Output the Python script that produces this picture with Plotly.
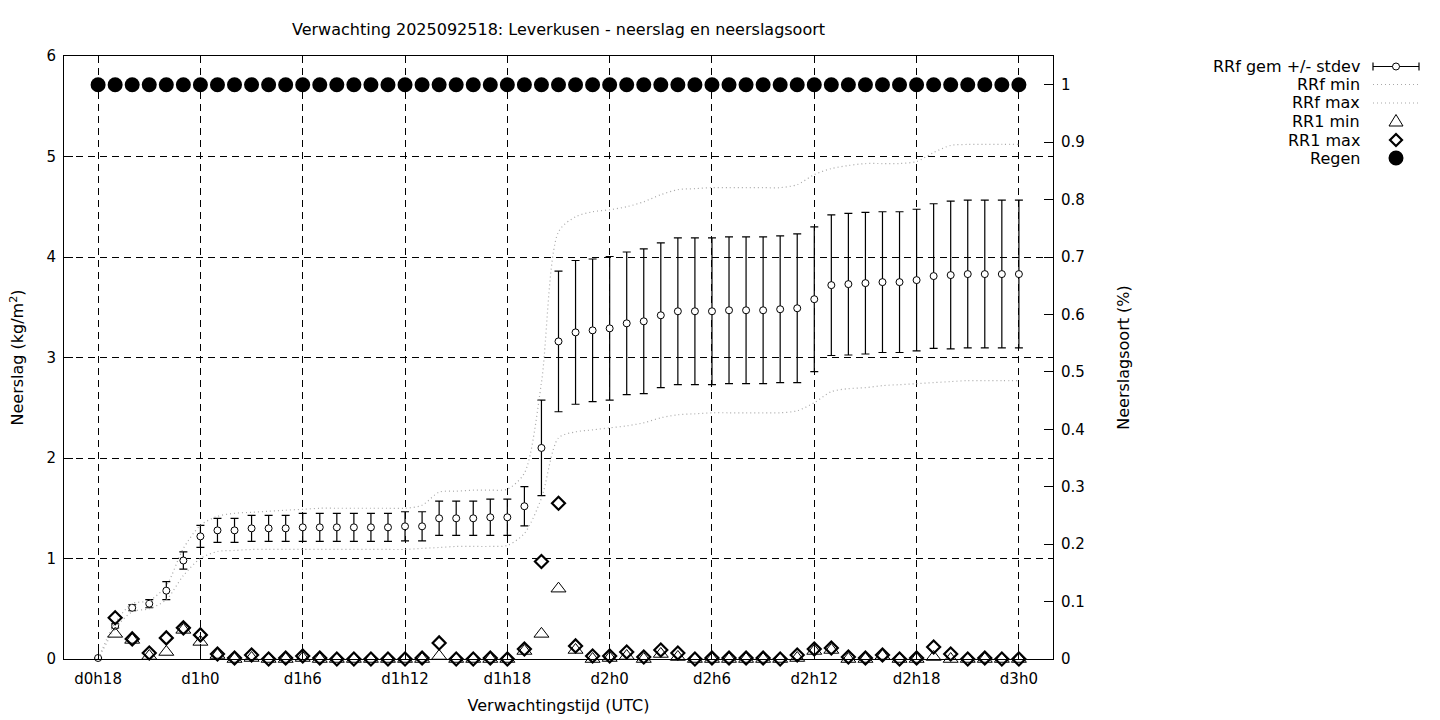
import plotly.graph_objects as go

hours = [18, 19, 20, 21, 22, 23, 24, 25, 26, 27, 28, 29, 30, 31, 32, 33, 34, 35, 36, 37,
         38, 39, 40, 41, 42, 43, 44, 45, 46, 47, 48, 49, 50, 51, 52, 53, 54, 55, 56, 57,
         58, 59, 60, 61, 62, 63, 64, 65, 66, 67, 68, 69, 70, 71, 72]
tick_hours = [18, 24, 30, 36, 42, 48, 54, 60, 66, 72]
tick_labels = ["d0h18", "d1h0", "d1h6", "d1h12", "d1h18", "d2h0", "d2h6", "d2h12", "d2h18", "d3h0"]
y2_ticks = [0, 0.1, 0.2, 0.3, 0.4, 0.5, 0.6, 0.7, 0.8, 0.9, 1]
y2_labels = ["0", "0.1", "0.2", "0.3", "0.4", "0.5", "0.6", "0.7", "0.8", "0.9", "1"]

rrf_mean = [0.01, 0.33, 0.51, 0.55, 0.68, 0.98, 1.22, 1.28, 1.28, 1.30, 1.30, 1.30, 1.31, 1.31,
            1.31, 1.31, 1.31, 1.31, 1.32, 1.32, 1.40, 1.40, 1.40, 1.41, 1.41, 1.52, 2.10, 3.16,
            3.25, 3.27, 3.29, 3.34, 3.36, 3.42, 3.46, 3.46, 3.46, 3.47, 3.47, 3.47, 3.48, 3.49,
            3.58, 3.72, 3.73, 3.74, 3.75, 3.75, 3.77, 3.81, 3.82, 3.83, 3.83, 3.83, 3.83]
rrf_std = [0.0, 0.02, 0.03, 0.04, 0.09, 0.085, 0.11, 0.12, 0.12, 0.13, 0.13, 0.13, 0.14, 0.14,
           0.14, 0.14, 0.14, 0.14, 0.145, 0.145, 0.17, 0.17, 0.17, 0.18, 0.18, 0.195, 0.475, 0.70,
           0.715, 0.71, 0.715, 0.71, 0.72, 0.72, 0.73, 0.73, 0.73, 0.73, 0.73, 0.73, 0.73, 0.74,
           0.72, 0.70, 0.705, 0.705, 0.70, 0.70, 0.705, 0.72, 0.735, 0.735, 0.735, 0.735, 0.735]
rrf_min = [0.0, 0.30, 0.47, 0.50, 0.59, 0.83, 1.00, 1.07, 1.08, 1.09, 1.09, 1.09, 1.09, 1.09,
           1.09, 1.09, 1.09, 1.09, 1.09, 1.10, 1.11, 1.12, 1.12, 1.12, 1.13, 1.25, 1.60, 2.20,
           2.26, 2.28, 2.30, 2.32, 2.35, 2.40, 2.43, 2.44, 2.45, 2.45, 2.45, 2.45, 2.45, 2.47,
           2.55, 2.66, 2.69, 2.70, 2.72, 2.73, 2.74, 2.75, 2.76, 2.77, 2.77, 2.77, 2.77]
rrf_max = [0.0, 0.36, 0.55, 0.58, 0.73, 1.10, 1.33, 1.42, 1.45, 1.46, 1.47, 1.48, 1.49, 1.50,
           1.50, 1.50, 1.50, 1.50, 1.50, 1.53, 1.66, 1.67, 1.68, 1.68, 1.69, 1.85, 2.75, 4.25,
           4.40, 4.45, 4.47, 4.50, 4.55, 4.62, 4.67, 4.68, 4.69, 4.69, 4.69, 4.69, 4.69, 4.72,
           4.82, 4.88, 4.91, 4.93, 4.93, 4.93, 4.95, 5.04, 5.11, 5.12, 5.12, 5.12, 5.12]
rr1_min = [None, 0.25, 0.19, 0.03, 0.07, 0.29, 0.17, 0.04, 0.00, 0.01, 0.00, 0.00, 0.01, 0.00,
           0.00, 0.00, 0.00, 0.00, 0.00, 0.00, 0.03, 0.00, 0.00, 0.00, 0.00, 0.08, 0.25, 0.70,
           0.09, 0.00, 0.01, 0.03, 0.00, 0.05, 0.02, 0.00, 0.00, 0.00, 0.00, 0.00, 0.00, 0.01,
           0.08, 0.09, 0.00, 0.00, 0.03, 0.00, 0.00, 0.02, 0.00, 0.00, 0.00, 0.00, 0.00]
rr1_max = [None, 0.41, 0.20, 0.06, 0.21, 0.31, 0.24, 0.05, 0.01, 0.04, 0.00, 0.01, 0.03, 0.01,
           0.00, 0.00, 0.00, 0.00, 0.00, 0.01, 0.16, 0.00, 0.00, 0.01, 0.00, 0.10, 0.97, 1.55,
           0.13, 0.03, 0.03, 0.07, 0.02, 0.09, 0.06, 0.00, 0.01, 0.01, 0.01, 0.01, 0.00, 0.04,
           0.10, 0.11, 0.02, 0.01, 0.04, 0.00, 0.01, 0.12, 0.05, 0.00, 0.01, 0.00, 0.00]
regen = [1, 1, 1, 1, 1, 1, 1, 1, 1, 1, 1, 1, 1, 1, 1, 1, 1, 1, 1, 1, 1, 1, 1, 1, 1, 1, 1, 1,
         1, 1, 1, 1, 1, 1, 1, 1, 1, 1, 1, 1, 1, 1, 1, 1, 1, 1, 1, 1, 1, 1, 1, 1, 1, 1, 1]

legend_names = ["RRf gem +/- stdev", "RRf min", "RRf max", "RR1 min", "RR1 max", "Regen"]

FONT = "DejaVu Sans"
GRID_DASH = "7px,5px"
DOT_COLOR = "#a8a8a8"
DOT_DASH = "1px,3px"

# figure geometry (pixels)
W, H = 1440, 720
ML, MR, MT, MB = 64, 387, 56, 61
PW, PH = W - ML - MR, H - MT - MB


def px_to_paper_x(px):
    return (px - ML) / PW


def px_to_paper_y(py):
    return (H - MB - py) / PH


fig = go.Figure()

fig.add_trace(go.Scatter(
    x=hours, y=rrf_mean, name=legend_names[0], mode="markers",
    marker=dict(symbol="circle", size=7, color="white", line=dict(color="black", width=1)),
    error_y=dict(type="data", array=rrf_std, visible=True, color="black", thickness=1.2, width=4),
    cliponaxis=False, showlegend=False,
))
fig.add_trace(go.Scatter(
    x=hours, y=rrf_min, name=legend_names[1], mode="lines",
    line=dict(color=DOT_COLOR, width=1.2, dash=DOT_DASH, shape="spline", smoothing=0.8),
    showlegend=False,
))
fig.add_trace(go.Scatter(
    x=hours, y=rrf_max, name=legend_names[2], mode="lines",
    line=dict(color=DOT_COLOR, width=1.2, dash=DOT_DASH, shape="spline", smoothing=0.8),
    showlegend=False,
))
fig.add_trace(go.Scatter(
    x=hours, y=rr1_min, name=legend_names[3], mode="markers",
    marker=dict(symbol="triangle-up-open", size=13, color="black", line=dict(color="black", width=1)),
    cliponaxis=False, showlegend=False,
))
fig.add_trace(go.Scatter(
    x=hours, y=rr1_max, name=legend_names[4], mode="markers",
    marker=dict(symbol="diamond-open", size=10, color="black", line=dict(color="black", width=2.2)),
    cliponaxis=False, showlegend=False,
))
fig.add_trace(go.Scatter(
    x=hours, y=regen, name=legend_names[5], mode="markers", yaxis="y2",
    marker=dict(symbol="circle", size=15, color="black", line=dict(width=0)),
    cliponaxis=False, showlegend=False,
))

# ---- gnuplot-style key (text right-aligned, sample to the right) ----
row_y = [66.5, 84.5, 103, 121.5, 140, 158]
text_right = 1362
sample_cx = 1396
annotations = []
shapes = []
for name, ry in zip(legend_names, row_y):
    annotations.append(dict(
        text=name, xref="paper", yref="paper",
        x=px_to_paper_x(text_right), y=px_to_paper_y(ry),
        xanchor="right", yanchor="middle", showarrow=False,
        font=dict(family=FONT, size=16, color="black"),
    ))

ax = px_to_paper_x(sample_cx)


def pix_shape(ry, **kw):
    d = dict(xref="paper", yref="paper", xsizemode="pixel", ysizemode="pixel",
             xanchor=ax, yanchor=px_to_paper_y(ry))
    d.update(kw)
    return d


# error bar sample
shapes.append(pix_shape(row_y[0], type="line", x0=-23, x1=23, y0=0, y1=0,
                        line=dict(color="black", width=1.2)))
shapes.append(pix_shape(row_y[0], type="line", x0=-23, x1=-23, y0=-4, y1=4,
                        line=dict(color="black", width=1.2)))
shapes.append(pix_shape(row_y[0], type="line", x0=23, x1=23, y0=-4, y1=4,
                        line=dict(color="black", width=1.2)))
shapes.append(pix_shape(row_y[0], type="circle", x0=-3.5, x1=3.5, y0=-3.5, y1=3.5,
                        fillcolor="white", line=dict(color="black", width=1)))
# dotted samples
for ry in row_y[1:3]:
    shapes.append(pix_shape(ry, type="line", x0=-23, x1=23, y0=0, y1=0,
                            line=dict(color=DOT_COLOR, width=1.2, dash=DOT_DASH)))
# triangle
shapes.append(pix_shape(row_y[3], type="path", path="M -7,-4.5 L 7,-4.5 L 0,7 Z",
                        line=dict(color="black", width=1)))
# diamond
shapes.append(pix_shape(row_y[4], type="path", path="M 0,6 L 6,0 L 0,-6 L -6,0 Z",
                        line=dict(color="black", width=2.2)))
# filled circle
shapes.append(pix_shape(row_y[5], type="circle", x0=-7.5, x1=7.5, y0=-7.5, y1=7.5,
                        fillcolor="black", line=dict(color="black", width=0)))

fig.update_layout(
    width=W, height=H,
    margin=dict(l=ML, r=MR, t=MT, b=MB, autoexpand=False),
    paper_bgcolor="white", plot_bgcolor="white",
    font=dict(family=FONT, size=15, color="black"),
    showlegend=False,
    title=dict(text="Verwachting 2025092518: Leverkusen - neerslag en neerslagsoort",
               x=0.5, xref="paper", xanchor="center", y=1 - 29 / H, yref="container",
               yanchor="middle", pad=dict(t=0, b=0),
               font=dict(family=FONT, size=16, color="black")),
    xaxis=dict(
        range=[16, 74], tickvals=tick_hours, ticktext=tick_labels,
        ticks="inside", ticklen=9, tickcolor="black", ticklabelstandoff=6,
        showgrid=True, gridcolor="black", gridwidth=1, griddash=GRID_DASH,
        showline=True, linecolor="black", linewidth=1, mirror=True, zeroline=False,
        automargin=False,
        title=dict(text="Verwachtingstijd (UTC)", standoff=12, font=dict(size=16)),
    ),
    yaxis=dict(
        range=[0, 6], tickvals=[0, 1, 2, 3, 4, 5, 6],
        ticks="inside", ticklen=9, tickcolor="black", ticklabelstandoff=4,
        showgrid=True, gridcolor="black", gridwidth=1, griddash=GRID_DASH,
        showline=True, linecolor="black", linewidth=1, mirror=True, zeroline=False,
        automargin=False,
        title=dict(text="Neerslag (kg/m<sup>2</sup>)", standoff=18, font=dict(size=16)),
    ),
    yaxis2=dict(
        range=[0, 1.05], overlaying="y", side="right",
        tickvals=y2_ticks, ticktext=y2_labels,
        ticks="inside", ticklen=9, tickcolor="black", ticklabelstandoff=4,
        showgrid=False, showline=True, linecolor="black", linewidth=1, zeroline=False,
        automargin=False,
        title=dict(text="Neerslagsoort (%)", standoff=33, font=dict(size=16)),
    ),
    annotations=annotations,
    shapes=shapes,
)

fig.write_html(
    "out.html",
    config={"displayModeBar": False},
    post_script="document.body.style.margin='0';document.body.style.padding='0';",
)
